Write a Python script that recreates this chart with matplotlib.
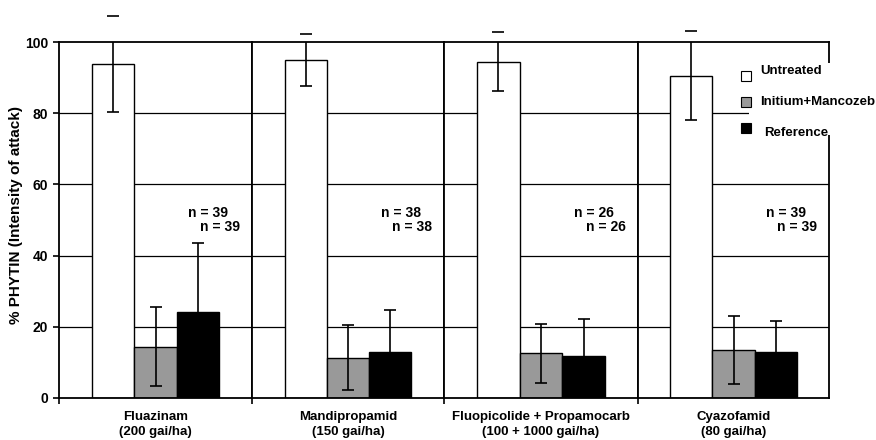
import matplotlib
matplotlib.use("Agg")
import matplotlib.pyplot as plt
from matplotlib.patches import Rectangle

plt.rcParams['font.family'] = ['Liberation Sans', 'DejaVu Sans']
plt.rcParams['font.weight'] = 'bold'

categories = ['Fluazinam\n(200 gai/ha)', 'Mandipropamid\n(150 gai/ha)',
              'Fluopicolide + Propamocarb\n(100 + 1000 gai/ha)', 'Cyazofamid\n(80 gai/ha)']
series_names = ['Untreated', 'Initium+Mancozeb', 'Reference']
untreated = [94.0, 95.0, 94.5, 90.6]
untreated_err = [13.5, 7.2, 8.3, 12.5]
initium = [14.4, 11.3, 12.5, 13.4]
initium_err = [11.1, 9.1, 8.3, 9.5]
reference = [24.0, 12.8, 11.7, 12.9]
reference_err = [19.6, 11.9, 10.4, 8.7]
n_values = [39, 38, 26, 39]
yticks = [0, 20, 40, 60, 80, 100]

colors = ['white', '#999999', 'black']
W, H = 876, 440
fig = plt.figure(figsize=(W / 100, H / 100), dpi=100)

def fx(x):
    return x / W

def fy(y):
    return 1 - y / H

edges = [59, 252, 444, 638, 829]
y_top, y_bot = 42.3, 397.7

vals = [untreated, initium, reference]
errs = [untreated_err, initium_err, reference_err]
centers = [0.28, 0.5, 0.72]
bw = 0.22

for i, cat in enumerate(categories):
    ax = fig.add_axes([fx(edges[i]), fy(y_bot), fx(edges[i + 1] - edges[i]), (y_bot - y_top) / H])
    ax.set_xlim(0, 1)
    ax.set_ylim(0, 100)
    for yv in yticks[1:-1]:
        ax.axhline(yv, color='black', lw=0.9, zorder=1)
    for s in range(3):
        ax.bar(centers[s], vals[s][i], width=bw, color=colors[s], edgecolor='black',
               linewidth=1.0, zorder=2)
        eb = ax.errorbar(centers[s], vals[s][i], yerr=errs[s][i], fmt='none', ecolor='black',
                         elinewidth=1.2, capsize=4.5, capthick=1.2, zorder=3)
        for cl in eb[1]:
            cl.set_clip_on(False)
    for sp in ax.spines.values():
        sp.set_linewidth(1.3)
    ax.set_xticks([0])
    ax.set_xticklabels([''])
    ax.tick_params(axis='x', direction='out', length=4, width=1.2)
    if i == 0:
        ax.set_yticks(yticks)
        ax.set_yticklabels([str(t) for t in yticks], fontsize=10, fontweight='bold')
        ax.tick_params(axis='y', direction='out', length=4, width=1.2, pad=4)
    else:
        ax.set_yticks([])
    ax.text(0.67, 52, f'n = {n_values[i]}', fontsize=10, fontweight='bold', va='center', ha='left')
    ax.text(0.73, 48, f'n = {n_values[i]}', fontsize=10, fontweight='bold', va='center', ha='left')
    fig.text(fx((edges[i] + edges[i + 1]) / 2), fy(424.5), cat, ha='center', va='center',
             fontsize=9.5, fontweight='bold', linespacing=1.3)

fig.text(fx(16), fy(215), '% PHYTIN (Intensity of attack)', rotation=90, ha='center',
         va='center', fontsize=11, fontweight='bold')

# legend area
fig.add_artist(Rectangle((fx(749), fy(135)), fx(876 - 749), (135 - 63) / H,
                         transform=fig.transFigure, facecolor='white', edgecolor='none', zorder=5))
leg_marker_y = [76, 102, 128]
leg_text = [(760, 71), (760, 102), (764, 133)]
for s in range(3):
    fig.add_artist(Rectangle((fx(741), fy(leg_marker_y[s] + 5)), fx(10), 10 / H,
                             transform=fig.transFigure, facecolor=colors[s], edgecolor='black',
                             linewidth=0.8, zorder=6))
    fig.text(fx(leg_text[s][0]), fy(leg_text[s][1]), series_names[s], fontsize=9.5,
             fontweight='bold', va='center', ha='left', zorder=7)

fig.savefig('out.png', dpi=100)
